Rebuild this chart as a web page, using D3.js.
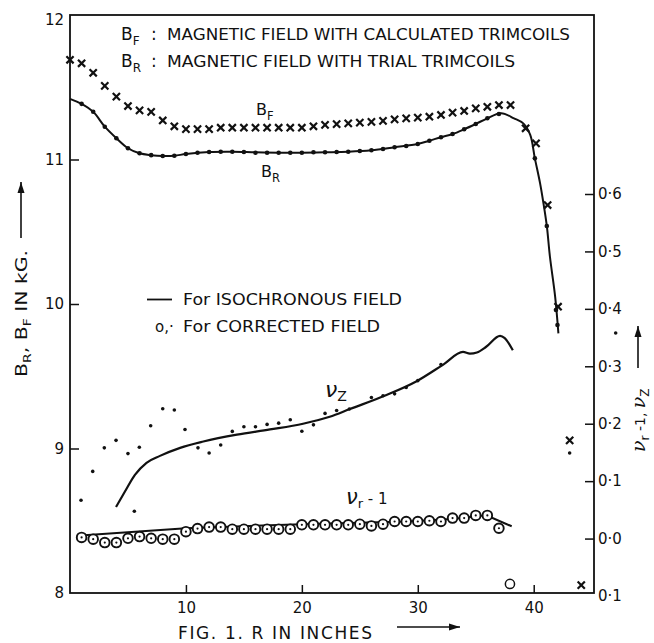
<!DOCTYPE html>
<html><head><meta charset="utf-8">
<script src="https://cdn.jsdelivr.net/npm/d3@7"></script>
<style>
html,body{margin:0;padding:0;background:#fff;}
svg{display:block;}
text{font-family:"DejaVu Sans","Liberation Sans",sans-serif;fill:#111;}
</style></head>
<body>
<svg id="chart" width="654" height="643"></svg>
<script>
// ---------------- DATA ----------------
// B_F : magnetic field with calculated trimcoils (crosses), kG vs R (inches)
const bfR   = [0,1,2,3,4,5,6,7,8,9,10,11,12,13,14,15,16,17,18,19,20,21,22,23,24,25,26,27,28,29,30,31,32,33,34,35,36,37,38,39.3,40.2,41.2,42.1];
const bfVal = [11.69,11.666,11.60,11.51,11.435,11.37,11.34,11.33,11.27,11.23,11.21,11.21,11.21,11.22,11.22,11.22,11.22,11.22,11.22,11.22,11.22,11.23,11.24,11.245,11.25,11.255,11.26,11.267,11.278,11.285,11.29,11.296,11.308,11.324,11.336,11.354,11.365,11.377,11.377,11.216,11.112,10.685,9.981];

// B_R : isochronous field curve (solid line)
const brLineR   = [0,1,2,3,4,5,6,7,8,9,10,12,14,16,18,20,22,24,26,28,30,31,32,33,34,35,36,37.2,38.3,39.1,39.7,40.1,40.55,40.84,41.13,41.4,41.85,42.13];
const brLineVal = [11.42,11.385,11.33,11.227,11.147,11.078,11.043,11.03,11.024,11.026,11.038,11.052,11.054,11.05,11.047,11.047,11.05,11.054,11.064,11.085,11.107,11.13,11.154,11.176,11.209,11.246,11.285,11.32,11.285,11.25,11.17,11.008,10.835,10.697,10.54,10.327,10.05,9.797];

// B_R : corrected field (dots)
const brDotR   = [1,2,3,4,5,6,7,8,9,10,11,12,13,14,15,16,17,18,19,20,21,22,23,24,25,26,27,28,29,30,31,32,33,34,35,36,37,40.1,41.13,41.92,42.05];
const brDotVal = [11.385,11.33,11.227,11.147,11.078,11.043,11.03,11.024,11.026,11.038,11.047,11.052,11.054,11.054,11.052,11.047,11.047,11.047,11.047,11.047,11.05,11.05,11.052,11.054,11.059,11.064,11.073,11.085,11.093,11.107,11.13,11.154,11.176,11.209,11.246,11.285,11.315,11.008,10.54,9.958,9.855];

// nu_z : isochronous field curve
const nuzLineR   = [3.97,4.74,5.6,6.6,7.76,9.5,11.5,14.4,17.25,20.1,22.4,24.15,27.3,29.9,32.2,33.9,34.5,35.1,35.9,37.1,37.5,38.2];
const nuzLineVal = [0.055,0.082,0.111,0.132,0.144,0.158,0.169,0.181,0.19,0.2,0.212,0.2256,0.25,0.274,0.303,0.325,0.322,0.324,0.334,0.353,0.349,0.328];

// nu_z : corrected field (dots)
const nuzDotR   = [0.95,1.96,2.96,3.97,5.0,5.55,5.98,6.96,8.0,9.0,9.92,11.04,12.0,13.0,14.0,15.0,16.0,17.0,18.0,19.0,20.0,21.0,22.0,23.0,24.1,26,27,28,29,30,32];
const nuzDotVal = [0.0667,0.117,0.158,0.171,0.148,0.0475,0.159,0.1965,0.226,0.224,0.19,0.158,0.149,0.163,0.1866,0.1948,0.1948,0.1988,0.201,0.207,0.187,0.198,0.218,0.223,0.2256,0.2457,0.2487,0.252,0.263,0.275,0.303];

// nu_r - 1 : isochronous field curve
const nurLineR   = [0.6,10,20,29,33,35.6,36.3,38.1];
const nurLineVal = [0.005,0.018,0.025,0.0297,0.034,0.04,0.037,0.0214];

// nu_r - 1 : corrected field (circles)
const nurCircR   = [1,2,3,4,5,6,7,8,9,10,11,12,13,14,15,16,17,18,19,20,21,22,23,24,25,26,27,28,29,30,31,32,33,34,35,36,37];
const nurCircVal = [0.002,-0.001,-0.007,-0.007,0.0005,0.0035,0.0005,-0.001,-0.001,0.012,0.0174,0.02,0.02,0.0163,0.0163,0.0163,0.0163,0.0163,0.0163,0.024,0.024,0.024,0.024,0.024,0.025,0.022,0.025,0.0297,0.0297,0.0297,0.031,0.0297,0.0357,0.0357,0.0403,0.0403,0.018];
const nurOpenR   = [37.95];
const nurOpenVal = [-0.079];

// isolated points beyond the field edge
const strayCrossR   = [43.1,44.1];
const strayCrossVal = [0.171,-0.081];
const strayDotR     = [43.1,47.07];
const strayDotVal   = [0.149,0.358];

// ticks
const xTicks = [10,20,30,40];
const leftTicks = [8,9,10,11,12];
const rightTicks = [-0.1,0,0.1,0.2,0.3,0.4,0.5,0.6];
const rightTickLabels = ["0·1","0·0","0·1","0·2","0·3","0·4","0·5","0·6"];

// ---------------- CHART ----------------
const svg = d3.select("#chart");
const L = 70, R = 594, T = 15, B = 593;

const x = d3.scaleLinear().domain([0,45.2]).range([L,R]);
const yB = d3.scaleLinear().domain([8,12]).range([B,T]);
const yN = d3.scaleLinear().domain([-0.1,0.6]).range([B+3,539-0.6*575]);

const zip = (a,b) => a.map((v,i)=>[v,b[i]]);

// frame
svg.append("rect").attr("x",L).attr("y",T).attr("width",R-L).attr("height",B-T)
  .attr("fill","none").attr("stroke","#111").attr("stroke-width",1.8);

// axes
const gl = svg.append("g").attr("transform",`translate(${L},0)`)
  .call(d3.axisLeft(yB).tickValues(leftTicks).tickSize(-9).tickPadding(6).tickFormat(d3.format("d")));
const gr = svg.append("g").attr("transform",`translate(${R},0)`)
  .call(d3.axisRight(yN).tickValues(rightTicks).tickSize(-9).tickPadding(4)
    .tickFormat((d,i)=>rightTickLabels[i]));
const gb = svg.append("g").attr("transform",`translate(0,${B})`)
  .call(d3.axisBottom(x).tickValues(xTicks).tickSize(-8).tickPadding(9).tickFormat(d3.format("d")));
[gl,gr,gb].forEach(g=>{
  g.select(".domain").remove();
  g.selectAll(".tick line").attr("stroke","#111").attr("stroke-width",1.5);
  g.selectAll(".tick text").attr("font-family","DejaVu Sans, sans-serif").attr("font-size",15).attr("fill","#111");
});
gl.selectAll(".tick").filter(d=>d===12).select("line").remove();
gl.selectAll(".tick").filter(d=>d===12).select("text").attr("dy","0.65em");
gl.selectAll(".tick").filter(d=>d===8).select("line").remove();
gr.selectAll(".tick").filter(d=>d===-0.1).select("line").remove();

// lines
const lineB = d3.line().x(d=>x(d[0])).y(d=>yB(d[1])).curve(d3.curveCatmullRom.alpha(0.5));
const lineN = d3.line().x(d=>x(d[0])).y(d=>yN(d[1])).curve(d3.curveMonotoneX);
const lineNr = d3.line().x(d=>x(d[0])).y(d=>yN(d[1])).curve(d3.curveLinear);

svg.append("path").attr("d",lineB(zip(brLineR,brLineVal))).attr("fill","none").attr("stroke","#111").attr("stroke-width",2);
svg.append("path").attr("d",lineN(zip(nuzLineR,nuzLineVal))).attr("fill","none").attr("stroke","#111").attr("stroke-width",2.2);
svg.append("path").attr("d",lineNr(zip(nurLineR,nurLineVal))).attr("fill","none").attr("stroke","#111").attr("stroke-width",2);

// crosses
function crosses(data, yS){
  const s = 3.6;
  const g = svg.append("g").attr("stroke","#111").attr("stroke-width",2.2).attr("stroke-linecap","butt");
  g.selectAll("path").data(data).join("path")
    .attr("d",d=>{const cx=x(d[0]), cy=yS(d[1]);
      return `M${cx-s},${cy-s}L${cx+s},${cy+s}M${cx-s},${cy+s}L${cx+s},${cy-s}`;})
    .attr("fill","none");
}
crosses(zip(bfR,bfVal), yB);
crosses(zip(strayCrossR,strayCrossVal), yN);

// dots
svg.append("g").selectAll("circle").data(zip(brDotR,brDotVal)).join("circle")
  .attr("cx",d=>x(d[0])).attr("cy",d=>yB(d[1])).attr("r",2.3).attr("fill","#111");
svg.append("g").selectAll("circle").data(zip(nuzDotR,nuzDotVal)).join("circle")
  .attr("cx",d=>x(d[0])).attr("cy",d=>yN(d[1])).attr("r",1.8).attr("fill","#111");
svg.append("g").selectAll("circle").data(zip(strayDotR,strayDotVal)).join("circle")
  .attr("cx",d=>x(d[0])).attr("cy",d=>yN(d[1])).attr("r",1.8).attr("fill","#111");

// circles (nu_r - 1)
const cg = svg.append("g");
cg.selectAll("circle.ring").data(zip(nurCircR,nurCircVal)).join("circle").attr("class","ring")
  .attr("cx",d=>x(d[0])).attr("cy",d=>yN(d[1])).attr("r",4.8).attr("fill","#fff").attr("stroke","#111").attr("stroke-width",1.9);
cg.selectAll("circle.ctr").data(zip(nurCircR,nurCircVal)).join("circle").attr("class","ctr")
  .attr("cx",d=>x(d[0])).attr("cy",d=>yN(d[1])).attr("r",1.1).attr("fill","#111");
cg.selectAll("circle.open").data(zip(nurOpenR,nurOpenVal)).join("circle").attr("class","open")
  .attr("cx",d=>x(d[0])).attr("cy",d=>yN(d[1])).attr("r",4.6).attr("fill","#fff").attr("stroke","#111").attr("stroke-width",1.5);

// ---------------- TEXT ----------------
// top legend
function legendLine(yb, subL, rest, len){
  const t = svg.append("text").attr("x",121).attr("y",yb).attr("font-size",17);
  t.append("tspan").text("B");
  t.append("tspan").attr("dy",5).attr("font-size",12).text(subL);
  svg.append("text").attr("x",151).attr("y",yb).attr("font-size",17).text(":");
  svg.append("text").attr("x",167).attr("y",yb).attr("font-size",16.5)
    .attr("textLength",len).attr("lengthAdjust","spacingAndGlyphs").text(rest);
}
legendLine(39.5,"F","MAGNETIC  FIELD  WITH  CALCULATED  TRIMCOILS",403);
legendLine(67,"R","MAGNETIC  FIELD  WITH  TRIAL  TRIMCOILS",348);

// series labels
{
  const t = svg.append("text").attr("x",256).attr("y",115).attr("font-size",16);
  t.append("tspan").text("B");
  t.append("tspan").attr("dy",5).attr("font-size",11.5).text("F");
}
{
  const t = svg.append("text").attr("x",261).attr("y",177).attr("font-size",16);
  t.append("tspan").text("B");
  t.append("tspan").attr("dy",5).attr("font-size",11.5).text("R");
}
{
  const t = svg.append("text").attr("x",325).attr("y",397).attr("font-size",22).attr("font-family","DejaVu Serif, serif").attr("font-style","italic");
  t.append("tspan").text("ν");
  t.append("tspan").attr("dy",4).attr("font-size",14).attr("font-style","normal").attr("font-family","DejaVu Sans, sans-serif").text("Z");
}
{
  const t = svg.append("text").attr("x",346).attr("y",504).attr("font-size",21).attr("font-family","DejaVu Serif, serif").attr("font-style","italic");
  t.append("tspan").text("ν");
  t.append("tspan").attr("dy",4).attr("font-size",13).attr("font-style","normal").attr("font-family","DejaVu Sans, sans-serif").text("r");
  t.append("tspan").attr("dy",-4).attr("font-size",15).attr("font-style","normal").attr("font-family","DejaVu Sans, sans-serif").text("  - 1");
}

// middle legend
svg.append("line").attr("x1",147).attr("x2",172).attr("y1",299.5).attr("y2",299.5).attr("stroke","#111").attr("stroke-width",1.8);
svg.append("text").attr("x",183).attr("y",305).attr("font-size",15)
  .attr("textLength",219).attr("lengthAdjust","spacingAndGlyphs").text("For  ISOCHRONOUS  FIELD");
svg.append("text").attr("x",155).attr("y",331.5).attr("font-size",15).text("o,·");
svg.append("text").attr("x",183).attr("y",331.5).attr("font-size",15)
  .attr("textLength",197).attr("lengthAdjust","spacingAndGlyphs").text("For  CORRECTED  FIELD");

// bottom label
svg.append("text").attr("x",178).attr("y",639).attr("font-size",17)
  .attr("textLength",194).attr("lengthAdjust","spacing").text("FIG. 1.  R  IN  INCHES");
function arrow(x1,y1,x2,y2){
  svg.append("line").attr("x1",x1).attr("y1",y1).attr("x2",x2).attr("y2",y2).attr("stroke","#111").attr("stroke-width",1.6);
  const a = Math.atan2(y2-y1,x2-x1), len=11, w=3.5;
  const bx = x2 - len*Math.cos(a), by = y2 - len*Math.sin(a);
  const px = -Math.sin(a)*w, py = Math.cos(a)*w;
  svg.append("path").attr("d",`M${x2},${y2}L${bx+px},${by+py}L${bx-px},${by-py}Z`).attr("fill","#111");
}
arrow(397,627,460,627);

// left label (rotated)
{
  const t = svg.append("text").attr("transform","translate(27,377) rotate(-90)").attr("font-size",16)
    .attr("textLength",127).attr("lengthAdjust","spacingAndGlyphs");
  t.append("tspan").text("B");
  t.append("tspan").attr("dy",4).attr("font-size",11).text("R");
  t.append("tspan").attr("dy",-4).text(", B");
  t.append("tspan").attr("dy",4).attr("font-size",11).text("F");
  t.append("tspan").attr("dy",-4).text("  IN  kG.");
}
arrow(21,238,21,182);

// right label (rotated)
{
  const t = svg.append("text").attr("transform","translate(645,452) rotate(-90)").attr("font-size",19);
  t.append("tspan").attr("font-family","DejaVu Serif, serif").attr("font-style","italic").text("ν");
  t.append("tspan").attr("dy",4).attr("font-size",12).text("r");
  t.append("tspan").attr("dy",-4).attr("font-size",14).text(" -1, ");
  t.append("tspan").attr("font-family","DejaVu Serif, serif").attr("font-style","italic").text("ν");
  t.append("tspan").attr("dy",4).attr("font-size",12).text("Z");
}
arrow(638,368,638,326);
</script>
</body></html>
